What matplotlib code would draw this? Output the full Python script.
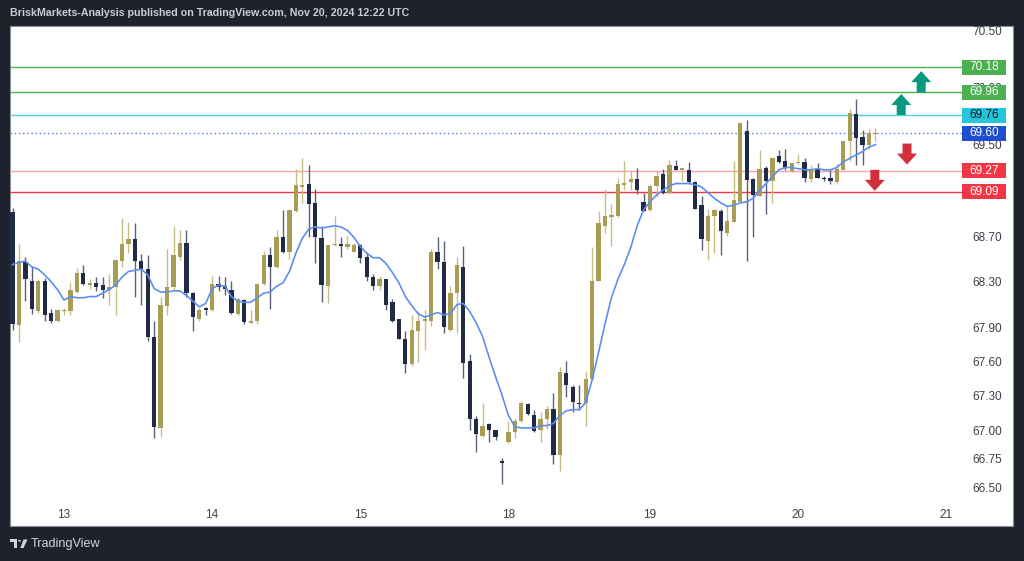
import matplotlib
matplotlib.use("Agg")
import matplotlib.pyplot as plt
from matplotlib.patches import Rectangle, Polygon, Circle
from matplotlib.transforms import blended_transform_factory

# ---------------- data (hourly candles) ----------------
opens = [68.91, 67.92, 68.47, 68.31, 68.04, 68.31, 68.03, 67.96, 68.04, 68.04,
         68.21, 68.38, 68.27, 68.29, 68.27, 68.23, 68.25, 68.48, 68.63, 68.67,
         68.48, 68.41, 67.82, 67.02, 68.09, 68.25, 68.52, 68.64, 68.20, 67.97,
         68.07, 68.05, 68.28, 68.26, 68.23, 68.02, 68.14, 67.94, 67.96, 68.28,
         68.53, 68.43, 68.69, 68.56, 68.92, 69.13, 69.16, 68.99, 68.68, 68.26,
         68.62, 68.63, 68.60, 68.56, 68.62, 68.52, 68.34, 68.26, 68.32, 68.12,
         67.97, 67.80, 67.58, 67.87, 67.96, 67.96, 68.56, 68.47, 67.88, 68.20,
         68.43, 67.61, 67.10, 66.95, 67.05, 67.00, 66.73, 66.90, 66.98, 67.08,
         67.23, 67.13, 67.00, 67.10, 67.19, 66.78, 67.50, 67.38, 67.24, 67.24,
         67.45, 68.31, 68.79, 68.87, 68.88, 69.15, 69.17, 69.20, 69.00, 68.93,
         69.14, 69.24, 69.08, 69.31, 69.28, 69.28, 69.17, 68.97, 68.66, 68.88,
         68.92, 68.73, 68.82, 69.00, 69.62, 69.20, 69.05, 69.30, 69.18, 69.40,
         69.36, 69.27, 69.34, 69.35, 69.20, 69.29, 69.21, 69.21, 69.17, 69.28,
         69.53, 69.77, 69.57, 69.50, 69.59]
highs = [68.95, 68.63, 68.52, 68.43, 68.32, 68.33, 68.06, 68.06, 68.07, 68.30,
         68.42, 68.45, 68.32, 68.34, 68.34, 68.37, 68.50, 68.86, 68.82, 68.81,
         68.54, 68.53, 67.96, 68.17, 68.59, 68.79, 68.75, 68.75, 68.21, 68.07,
         68.08, 68.35, 68.35, 68.34, 68.31, 68.16, 68.15, 68.05, 68.28, 68.57,
         68.60, 68.75, 68.93, 68.94, 69.29, 69.38, 69.32, 69.11, 68.79, 68.62,
         68.88, 68.69, 68.70, 68.64, 68.63, 68.56, 68.37, 68.35, 68.32, 68.15,
         67.97, 67.87, 68.01, 68.04, 68.05, 68.59, 68.69, 68.66, 68.26, 68.52,
         68.61, 67.67, 67.12, 67.24, 67.06, 67.00, 66.76, 67.08, 67.11, 67.26,
         67.24, 67.18, 67.16, 67.21, 67.33, 67.55, 67.61, 67.40, 67.40, 67.52,
         68.60, 68.92, 69.11, 68.98, 69.21, 69.36, 69.28, 69.30, 69.08, 69.15,
         69.27, 69.29, 69.37, 69.37, 69.30, 69.35, 69.18, 69.05, 68.94, 68.94,
         68.94, 68.96, 69.36, 69.69, 69.72, 69.21, 69.45, 69.31, 69.38, 69.45,
         69.46, 69.34, 69.42, 69.38, 69.32, 69.34, 69.23, 69.28, 69.33, 69.53,
         69.81, 69.90, 69.63, 69.64, 69.65]
lows = [67.88, 67.77, 68.13, 68.02, 68.03, 67.96, 67.94, 67.95, 68.01, 68.01,
        68.20, 68.27, 68.24, 68.22, 68.16, 68.10, 68.01, 68.43, 68.55, 68.17,
        68.10, 67.78, 66.93, 66.94, 68.01, 68.23, 68.49, 68.17, 67.87, 67.96,
        68.01, 68.04, 68.22, 68.18, 68.02, 68.01, 67.93, 67.94, 67.93, 68.27,
        68.06, 68.42, 68.55, 68.50, 68.91, 68.99, 68.69, 68.46, 68.12, 68.11,
        68.61, 68.52, 68.59, 68.56, 68.46, 68.31, 68.23, 68.23, 68.05, 67.95,
        67.80, 67.50, 67.56, 67.60, 67.70, 67.91, 68.41, 67.85, 67.87, 67.85,
        67.46, 67.00, 66.81, 66.94, 66.90, 66.91, 66.53, 66.89, 66.93, 67.07,
        67.13, 66.98, 66.90, 67.01, 66.70, 66.64, 67.29, 67.16, 67.18, 67.04,
        67.44, 68.31, 68.73, 68.61, 68.87, 69.10, 69.10, 69.07, 68.92, 68.92,
        69.04, 69.07, 69.07, 69.28, 69.18, 69.16, 68.94, 68.58, 68.49, 68.55,
        68.53, 68.70, 68.82, 68.99, 68.48, 68.69, 69.05, 68.89, 68.99, 69.34,
        69.28, 69.26, 69.33, 69.17, 69.17, 69.21, 69.18, 69.16, 69.16, 69.28,
        69.36, 69.32, 69.32, 69.46, 69.53]
closes = [67.93, 68.48, 68.32, 68.06, 68.31, 68.01, 67.96, 68.05, 68.05, 68.23,
          68.38, 68.28, 68.29, 68.25, 68.23, 68.25, 68.49, 68.63, 68.67, 68.48,
          68.41, 67.82, 67.03, 68.10, 68.25, 68.53, 68.64, 68.20, 67.99, 68.05,
          68.05, 68.28, 68.25, 68.24, 68.03, 68.15, 67.95, 67.96, 68.28, 68.53,
          68.43, 68.69, 68.56, 68.93, 69.15, 69.15, 68.98, 68.69, 68.27, 68.62,
          68.63, 68.61, 68.63, 68.62, 68.51, 68.34, 68.26, 68.32, 68.10, 67.96,
          67.80, 67.58, 67.88, 67.96, 67.97, 68.56, 68.47, 67.90, 68.20, 68.45,
          67.59, 67.10, 66.97, 67.04, 67.00, 66.94, 66.71, 66.98, 67.08, 67.24,
          67.14, 66.99, 67.10, 67.19, 66.78, 67.51, 67.40, 67.25, 67.23, 67.45,
          68.31, 68.81, 68.88, 68.88, 69.16, 69.16, 69.20, 69.10, 68.92, 69.14,
          69.23, 69.08, 69.32, 69.28, 69.29, 69.17, 68.94, 68.67, 68.88, 68.93,
          68.74, 68.83, 69.02, 69.69, 69.19, 69.06, 69.29, 69.18, 69.38, 69.35,
          69.30, 69.34, 69.35, 69.21, 69.29, 69.21, 69.20, 69.18, 69.29, 69.53,
          69.78, 69.56, 69.50, 69.60, 69.60]
moving_avg = [68.45, 68.47, 68.48, 68.43, 68.41, 68.36, 68.30, 68.23, 68.14, 68.17,
              68.16, 68.16, 68.17, 68.17, 68.20, 68.23, 68.27, 68.34, 68.39, 68.40,
              68.41, 68.36, 68.24, 68.21, 68.21, 68.22, 68.22, 68.18, 68.13, 68.08,
              68.11, 68.24, 68.27, 68.26, 68.17, 68.13, 68.12, 68.12, 68.16, 68.20,
              68.21, 68.26, 68.29, 68.39, 68.55, 68.68, 68.76, 68.78, 68.77, 68.78,
              68.79, 68.78, 68.75, 68.69, 68.61, 68.55, 68.51, 68.51, 68.46, 68.38,
              68.29, 68.17, 68.09, 68.02, 67.99, 68.01, 68.03, 68.01, 68.02, 68.10,
              68.11, 68.04, 67.94, 67.82, 67.64, 67.47, 67.31, 67.13, 67.03, 67.02,
              67.02, 67.02, 67.04, 67.04, 67.06, 67.13, 67.17, 67.18, 67.18, 67.24,
              67.44, 67.68, 67.93, 68.16, 68.32, 68.45, 68.60, 68.79, 68.93, 69.00,
              69.06, 69.10, 69.14, 69.16, 69.16, 69.16, 69.15, 69.13, 69.08, 69.03,
              68.99, 68.96, 68.97, 68.99, 69.00, 69.03, 69.10, 69.16, 69.22, 69.28,
              69.30, 69.30, 69.29, 69.28, 69.28, 69.29, 69.28, 69.28, 69.30, 69.35,
              69.38, 69.41, 69.44, 69.48, 69.50]

day_labels = ["13", "14", "15", "18", "19", "20", "21"]
day_bar_index = [8, 31, 54, 77, 99, 122, 145]
price_ticks = [70.50, 70.00, 69.50, 68.70, 68.30, 67.90, 67.60, 67.30, 67.00, 66.75, 66.50]
level_values = [70.18, 69.96, 69.76, 69.60, 69.27, 69.09]
up_arrows = [(138.0, 69.76), (141.1, 69.96)]      # (bar index, base price)
down_arrows = [(138.9, 69.51), (133.9, 69.28)]    # (bar index, top price)

title = "BriskMarkets-Analysis published on TradingView.com, Nov 20, 2024 12:22 UTC"

# ---------------- styling ----------------
W, H = 1024, 561
BG = "#1e222d"
BULL = "#a99c55"
BEAR = "#222b45"
BULL_WICK = "#c7bd86"
BEAR_WICK = "#59617a"
MA_COLOR = "#5d8ff1"
TXT = "#3d404a"
level_line_colors = ["#4caf50", "#4caf50", "#4fd3e6", "#5b7fe0", "#f6a0a7", "#f23645"]
level_box_colors = ["#4caf50", "#4caf50", "#26c6da", "#1f4fd1", "#f23645", "#f23645"]
level_text_colors = ["white", "white", "#131722", "white", "white", "white"]

plt.rcParams["font.family"] = ["Liberation Sans", "DejaVu Sans"]

fig = plt.figure(figsize=(W / 100, H / 100), dpi=100, facecolor=BG)

def fx(px):
    return px / W

def fy(py):
    return 1 - py / H

# white chart panel (behind the axes)
fig.patches.append(Rectangle((fx(10), fy(526)), fx(1003), (526 - 26) / H,
                             transform=fig.transFigure, facecolor="white",
                             edgecolor="#8a8d96", lw=0.8, zorder=-10))

ax = fig.add_axes([fx(10), fy(500), fx(952), (500 - 26) / H])
ax.set_zorder(1)
ax.set_facecolor("none")
for s in ax.spines.values():
    s.set_visible(False)

px_per_bar = 6.44
x0_px = 12.5
ax.set_xlim((10 - x0_px) / px_per_bar, (962 - x0_px) / px_per_bar)
px_per_unit = 114.2
ax.set_ylim(70.5 - (500 - 30.5) / px_per_unit, 70.5 - (26 - 30.5) / px_per_unit)

# candles
body_w = 0.66
for i, (o, h, l, c) in enumerate(zip(opens, highs, lows, closes)):
    bull = c >= o
    ax.vlines(i, l, h, color=BULL_WICK if bull else BEAR_WICK, lw=1.0, zorder=2)
    bottom = min(o, c)
    height = max(abs(c - o), 0.012)
    ax.add_patch(Rectangle((i - body_w / 2, bottom), body_w, height,
                           facecolor=BULL if bull else BEAR, edgecolor="none", zorder=3))

# moving average
ax.plot(range(len(moving_avg)), moving_avg, color=MA_COLOR, lw=1.2, zorder=4)

# horizontal levels
for v, lc in zip(level_values, level_line_colors):
    if abs(v - closes[-1]) < 1e-9:
        ax.axhline(v, color=lc, lw=1.0, ls=(0, (1, 2)), zorder=1)
    else:
        ax.axhline(v, color=lc, lw=1.0, zorder=1)

# arrows (pixel-shaped, placed in data coords)
ARROW_PTS = [(-4.5, 0), (4.5, 0), (4.5, 10), (10, 10), (0, 21), (-10, 10), (-4.5, 10)]

def arrow(cx, yref, up, color):
    sx = 1 / px_per_bar
    sy = 1 / px_per_unit
    sign = 1 if up else -1
    pts = [(cx + a * sx, yref + sign * b * sy) for a, b in ARROW_PTS]
    ax.add_patch(Polygon(pts, closed=True, facecolor=color, edgecolor="none", zorder=5))

for cx, yb in up_arrows:
    arrow(cx, yb, True, "#089981")
for cx, yt in down_arrows:
    arrow(cx, yt, False, "#d22f3c")

# axes ticks
ax.yaxis.tick_right()
ax.set_yticks(price_ticks, [f"{t:.2f}" for t in price_ticks])
ax.set_xticks(day_bar_index, day_labels)
ax.tick_params(axis="y", length=0, pad=7.5, labelsize=8.5, labelcolor=TXT)
ax.tick_params(axis="x", length=0, pad=6.5, labelsize=8.5, labelcolor=TXT)

# price labels for levels
bt = blended_transform_factory(fig.transFigure, ax.transData)
box_h = 15 / px_per_unit
for v, bc, tc in zip(level_values, level_box_colors, level_text_colors):
    ax.add_patch(Rectangle((fx(962), v - box_h / 2), fx(44), box_h, transform=bt,
                           facecolor=bc, edgecolor="none", clip_on=False, zorder=6))
    ax.text(fx(984), v, f"{v:.2f}", transform=bt, ha="center", va="center",
            color=tc, fontsize=8.5, clip_on=False, zorder=7)

# header text, fitted to width
t = fig.text(fx(10), fy(13.5), title, color="#c9ccd4", fontsize=8, weight="bold",
             va="center", ha="left")
fig.canvas.draw()
r = fig.canvas.get_renderer()
wpx = t.get_window_extent(r).width
t.set_fontsize(8 * 402 / wpx)

# footer logo
logo_c = "#d1d4dc"
fig.patches.append(Rectangle((fx(10), fy(542)), fx(7), 2.6 / H, transform=fig.transFigure,
                             facecolor=logo_c, edgecolor="none"))
fig.patches.append(Rectangle((fx(13.6), fy(548)), fx(3.4), 8.5 / H, transform=fig.transFigure,
                             facecolor=logo_c, edgecolor="none"))
fig.patches.append(Circle((fx(19.6), fy(540.8)), 1.5 / W, transform=fig.transFigure,
                          facecolor=logo_c, edgecolor="none"))
fig.patches.append(Polygon([(fx(23.5), fy(539.5)), (fx(27.5), fy(539.5)),
                            (fx(23.5), fy(548)), (fx(20.3), fy(548))],
                           closed=True, transform=fig.transFigure,
                           facecolor=logo_c, edgecolor="none"))
ft = fig.text(fx(31), fy(543.5), "TradingView", color=logo_c, fontsize=9,
              va="center", ha="left")
fig.canvas.draw()
wpx = ft.get_window_extent(r).width
ft.set_fontsize(9 * 70 / wpx)

fig.savefig("out.png", dpi=100, facecolor=BG)
